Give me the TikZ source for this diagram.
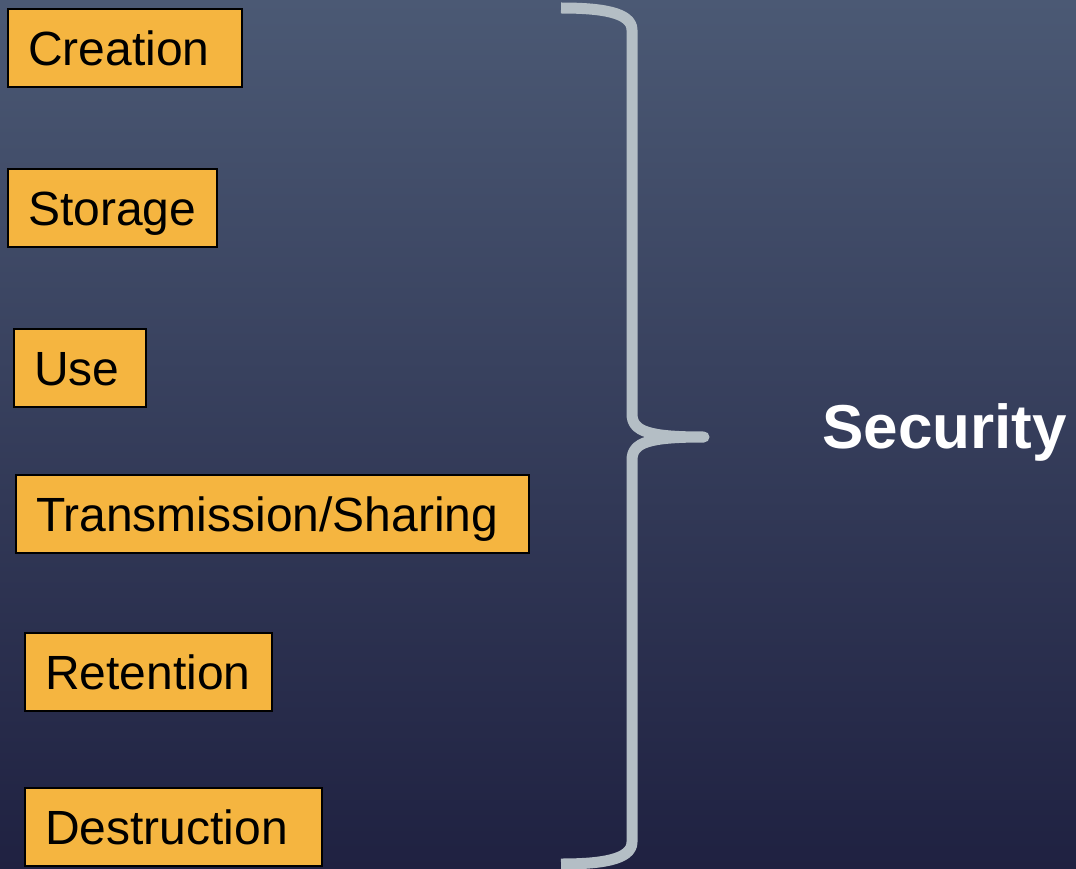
\documentclass[tikz,border=0pt]{standalone}
\usepackage{fontspec}
\setmainfont{Liberation Sans}
\definecolor{bgtop}{RGB}{75,89,116}
\definecolor{bgbot}{RGB}{31,33,65}
\definecolor{boxfill}{RGB}{245,181,64}
\definecolor{bracecol}{RGB}{180,190,197}
\tikzset{
  stagebox/.style={draw=black, line width=2pt, fill=boxfill, anchor=north west,
    inner xsep=20pt, inner ysep=0pt, minimum height=78pt, align=left,
    text height=34.5pt, text depth=0pt,
    font=\fontsize{48}{56}\selectfont, text=black},
  bracestyle/.style={draw=bracecol, line width=11pt, line join=round},
}
\begin{document}
\begin{tikzpicture}[x=1pt,y=-1pt]
\fill[top color=bgtop, bottom color=bgbot] (0,0) rectangle (1076,869);
\useasboundingbox (0,0) rectangle (1076,869);
\node[stagebox, text width=194pt] (creation) at (7,8) {Creation};
\node[stagebox, text width=169pt] (storage) at (7,168) {Storage};
\node[stagebox, text width=92pt] (use) at (13,328) {Use};
\node[stagebox, text width=473pt] (trans) at (15,474) {Transmission/Sharing};
\node[stagebox, text width=207pt] (retention) at (24,632) {Retention};
\node[stagebox, text width=257pt] (destruction) at (24,787) {Destruction};
\draw[bracestyle] (561,8) .. controls (600,8) and (632,12) .. (632,30)
  -- (632,414) .. controls (632,432) and (650,437) .. (704,437)
  .. controls (650,437) and (632,442) .. (632,460)
  -- (632,842) .. controls (632,860) and (600,864) .. (561,864);
\node[font=\fontsize{62}{70}\selectfont\bfseries, text=white, anchor=base west, inner sep=0pt] (security) at (822,448) {Security};
\end{tikzpicture}
\end{document}
